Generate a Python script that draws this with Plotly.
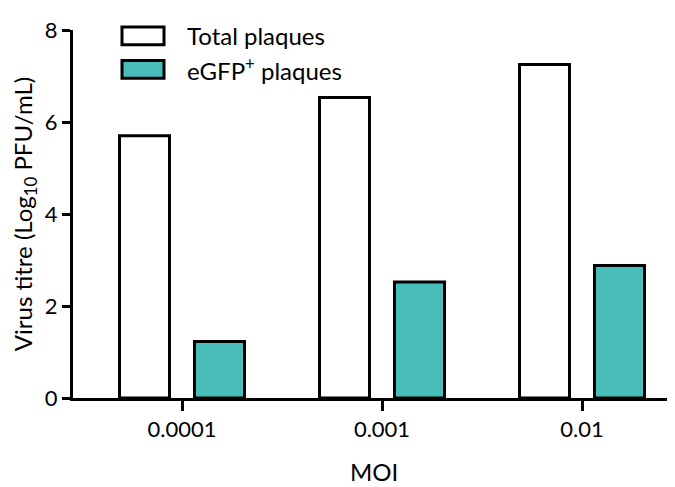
import plotly.graph_objects as go

categories = ["0.0001", "0.001", "0.01"]
total_plaques = [5.70, 6.53, 7.25]
egfp_plaques = [1.23, 2.52, 2.88]
y_ticks = [0, 2, 4, 6, 8]
series_names = ["Total plaques", "eGFP<sup>+</sup> plaques"]
colors = ["#FFFFFF", "#48BDBA"]

FONT = "Lato, 'Open Sans', sans-serif"
OFF = 8  # page body margin in the browser

fig = go.Figure()
fig.add_trace(go.Bar(x=[0, 1, 2], y=total_plaques, name=series_names[0],
                     marker=dict(color=colors[0], line=dict(color="black", width=3)),
                     showlegend=False))
fig.add_trace(go.Bar(x=[0, 1, 2], y=egfp_plaques, name=series_names[1],
                     marker=dict(color=colors[1], line=dict(color="black", width=3)),
                     showlegend=False))

W, H = 675, 487
L, R, T, B = 73 - OFF, OFF, 25 - OFF, H - (398 - OFF)
pw, ph = W - L - R, H - T - B

def px(x):
    return (x - OFF - L) / pw

def py(y):
    return (H - B - (y - OFF)) / ph

# manual legend (large swatches like the original)
legend_rows = [(22, 40), (56, 74)]
for (y0, y1), name, col in zip(legend_rows, series_names, colors):
    fig.add_shape(type="rect", xref="paper", yref="paper",
                  x0=px(122), x1=px(164), y0=py(y1), y1=py(y0),
                  fillcolor=col, line=dict(color="black", width=3))
    fig.add_annotation(xref="paper", yref="paper", x=px(185), y=py((y0 + y1) / 2),
                       text=name, showarrow=False, xanchor="left", yanchor="middle",
                       font=dict(family=FONT, size=24, color="black"))

fig.update_layout(
    width=W, height=H,
    margin=dict(l=L, r=R, t=T, b=B),
    paper_bgcolor="white", plot_bgcolor="white",
    barmode="group", bargap=0.25, bargroupgap=1/3,
    font=dict(family=FONT, size=22, color="black"),
    xaxis=dict(range=[-0.545, 2.465], tickmode="array", tickvals=[0, 1, 2],
               ticktext=categories, showline=True, linecolor="black", linewidth=3,
               ticks="outside", ticklen=10, tickwidth=3, tickcolor="black",
               showgrid=False, zeroline=False, tickfont=dict(size=22),
               title=dict(text="MOI", font=dict(size=24), standoff=23)),
    yaxis=dict(range=[0, 8], tickvals=y_ticks, showline=True, linecolor="black",
               linewidth=3, ticks="outside", ticklen=8, tickwidth=3, tickcolor="black",
               showgrid=False, zeroline=False, tickfont=dict(size=22),
               title=dict(text="Virus titre (Log<sub>10</sub> PFU/mL)", font=dict(size=24),
                          standoff=6)),
)

fig.write_html("out.html")
